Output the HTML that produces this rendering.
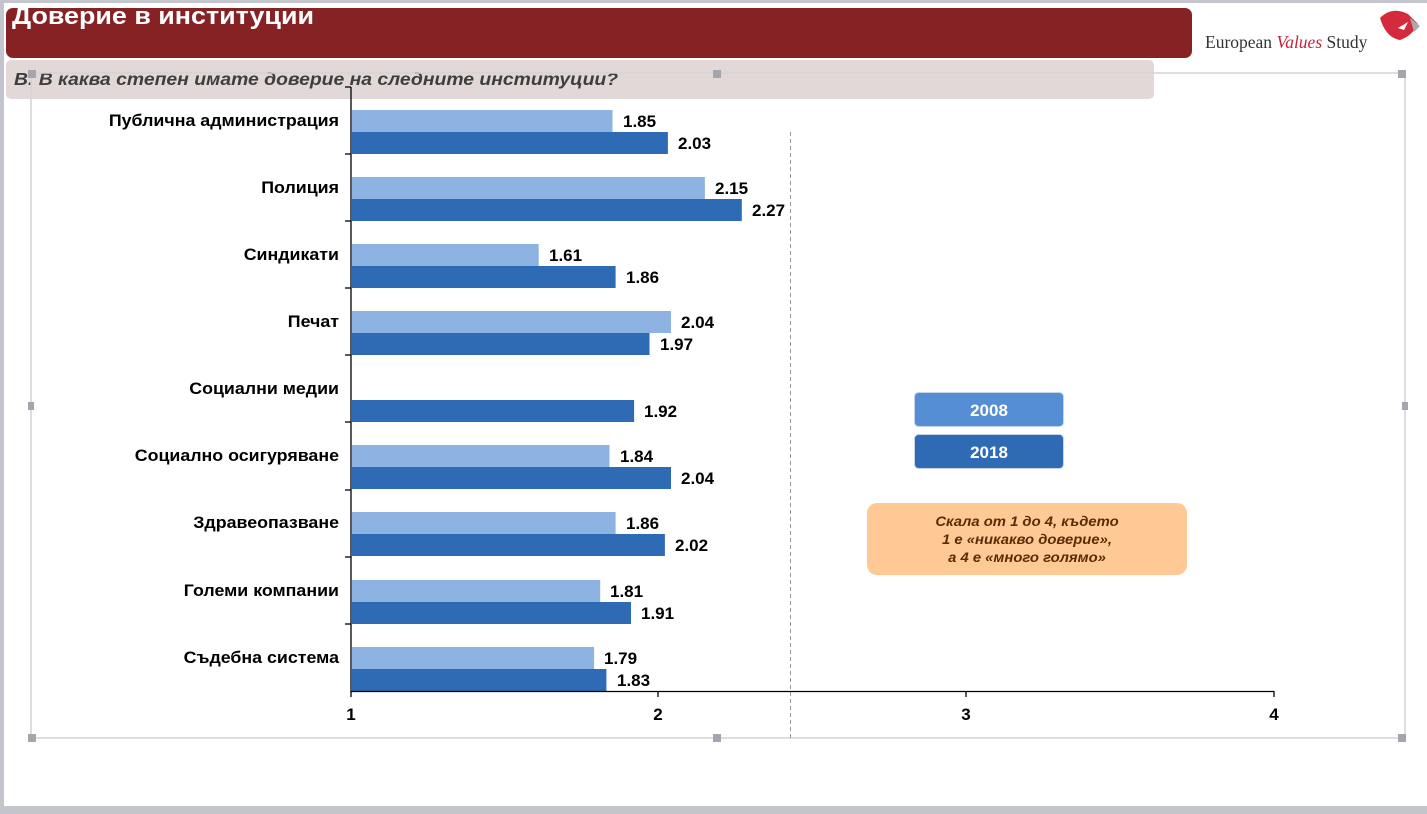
<!DOCTYPE html>
<html><head><meta charset="utf-8"><style>
html,body{margin:0;padding:0;}
body{width:1427px;height:814px;background:#c3c4cc;position:relative;overflow:hidden;font-family:"Liberation Sans",sans-serif;}
</style></head><body>
<svg width="1427" height="814" style="position:absolute;left:0;top:0" font-family="Liberation Sans, sans-serif">
<rect x="4" y="3" width="1423" height="803" fill="#fff"/>
<rect x="6" y="8" width="1186" height="50" rx="7" fill="#862224"/>
<text x="12" y="24" font-size="24" font-weight="bold" fill="#fff" transform="translate(12,0) scale(1.12,1) translate(-12,0)">Доверие в институции</text>
<rect x="6" y="60" width="1148" height="39" rx="5" fill="#e3d8d8"/>
<text x="14" y="85" font-size="18" font-weight="bold" font-style="italic" fill="#3e3e3e" transform="translate(14,0) scale(1.075,1) translate(-14,0)">В. В каква степен имате доверие на следните институции?</text>
<text x="1205" y="48" font-size="17.5" font-family="Liberation Serif, serif" fill="#333">European <tspan fill="#c8223a" font-style="italic">Values</tspan> Study</text>
<path d="M1380 18 Q1392 6 1408 14 L1418 24 Q1412 36 1400 40 Q1386 38 1380 18Z" fill="#d42a3e"/>
<path d="M1398 28 L1408 22 L1404 30Z" fill="#fff"/>
<path d="M1410 18 L1420 26 L1414 32Z" fill="#aaa"/>
<g fill="none" stroke="#d4d4d4" stroke-width="1.5">
<rect x="31" y="73" width="1374" height="665"/>
</g>
<g fill="#a4a5ad">
<rect x="28" y="70" width="8" height="8"/><rect x="713" y="70" width="8" height="8"/><rect x="1398" y="70" width="8" height="8"/>
<rect x="28" y="734" width="8" height="8"/><rect x="713" y="734" width="8" height="8"/><rect x="1398" y="734" width="8" height="8"/>
<rect x="28" y="402" width="6" height="8"/><rect x="1402" y="402" width="6" height="8"/>
</g>
<line x1="790.5" y1="132" x2="790.5" y2="740" stroke="#999" stroke-dasharray="4,3"/>
<g fill="#8db3e2">
<rect x="352" y="110" width="260.5" height="22"/>
<rect x="352" y="177" width="352.9" height="22"/>
<rect x="352" y="244" width="186.7" height="22"/>
<rect x="352" y="311" width="319" height="22"/>
<rect x="352" y="445" width="257.5" height="22"/>
<rect x="352" y="512" width="263.6" height="22"/>
<rect x="352" y="580" width="248.2" height="22"/>
<rect x="352" y="647" width="242.1" height="22"/>
</g>
<g fill="#2e6bb4">
<rect x="352" y="132" width="315.9" height="22"/>
<rect x="352" y="199" width="389.8" height="22"/>
<rect x="352" y="266" width="263.6" height="22"/>
<rect x="352" y="333" width="297.5" height="22"/>
<rect x="352" y="400" width="282.1" height="22"/>
<rect x="352" y="467" width="319" height="22"/>
<rect x="352" y="534" width="312.9" height="22"/>
<rect x="352" y="602" width="279" height="22"/>
<rect x="352" y="669" width="254.4" height="22"/>
</g>
<g stroke="#000" stroke-width="1.3">
<line x1="351" y1="87" x2="351" y2="692"/>
<line x1="351" y1="691.5" x2="1274" y2="691.5"/>
<line x1="345" y1="87" x2="351" y2="87"/><line x1="345" y1="154" x2="351" y2="154"/><line x1="345" y1="221" x2="351" y2="221"/><line x1="345" y1="288" x2="351" y2="288"/><line x1="345" y1="355" x2="351" y2="355"/><line x1="345" y1="422" x2="351" y2="422"/><line x1="345" y1="490" x2="351" y2="490"/><line x1="345" y1="557" x2="351" y2="557"/><line x1="345" y1="624" x2="351" y2="624"/>
<line x1="351" y1="691" x2="351" y2="697"/><line x1="658" y1="691" x2="658" y2="697"/><line x1="966" y1="691" x2="966" y2="697"/><line x1="1274" y1="691" x2="1274" y2="697"/>
</g>
<g font-size="16.5" font-weight="bold" fill="#000" text-anchor="end" transform="translate(339,0) scale(1.08,1) translate(-339,0)">
<text x="339" y="126">Публична администрация</text>
<text x="339" y="193">Полиция</text>
<text x="339" y="260">Синдикати</text>
<text x="339" y="327">Печат</text>
<text x="339" y="394">Социални медии</text>
<text x="339" y="461">Социално осигуряване</text>
<text x="339" y="528">Здравеопазване</text>
<text x="339" y="596">Големи компании</text>
<text x="339" y="663">Съдебна система</text>
</g>
<g font-size="17" font-weight="bold" fill="#000">
<text x="623" y="127">1.85</text><text x="678" y="149">2.03</text>
<text x="715" y="194">2.15</text><text x="752" y="216">2.27</text>
<text x="549" y="261">1.61</text><text x="626" y="283">1.86</text>
<text x="681" y="328">2.04</text><text x="660" y="350">1.97</text>
<text x="644" y="417">1.92</text>
<text x="620" y="462">1.84</text><text x="681" y="484">2.04</text>
<text x="626" y="529">1.86</text><text x="675" y="551">2.02</text>
<text x="610" y="597">1.81</text><text x="641" y="619">1.91</text>
<text x="604" y="664">1.79</text><text x="617" y="686">1.83</text>
</g>
<g font-size="17" font-weight="bold" fill="#000" text-anchor="middle">
<text x="351" y="720">1</text><text x="658" y="720">2</text><text x="966" y="720">3</text><text x="1274" y="720">4</text>
</g>
<rect x="914.5" y="392.5" width="149" height="34" rx="4" fill="#558ed5" stroke="#c6d4ea"/>
<text x="989" y="416" font-size="17" font-weight="bold" fill="#fff" text-anchor="middle">2008</text>
<rect x="914.5" y="434.5" width="149" height="34" rx="4" fill="#2e6bb4" stroke="#c6d4ea"/>
<text x="989" y="458" font-size="17" font-weight="bold" fill="#fff" text-anchor="middle">2018</text>
<rect x="867" y="503" width="320" height="72" rx="10" fill="#fec994"/>
<g font-size="14" font-weight="bold" font-style="italic" fill="#5a2c05" text-anchor="middle" transform="translate(1027,0) scale(1.06,1) translate(-1027,0)">
<text x="1027" y="526">Скала от 1 до 4, където</text>
<text x="1027" y="544">1 е «никакво доверие»,</text>
<text x="1027" y="562">а 4 е «много голямо»</text>
</g>
</svg>
</body></html>
